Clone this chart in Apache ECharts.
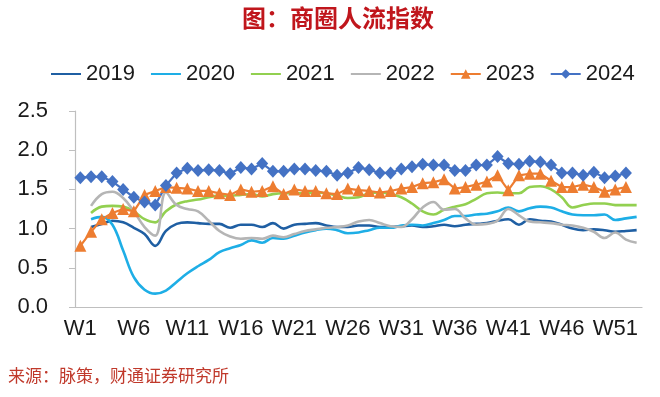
<!DOCTYPE html>
<html>
<head>
<meta charset="utf-8">
<script src="https://cdn.jsdelivr.net/npm/echarts@6/dist/echarts.min.js"></script>
<style>
  html, body { margin: 0; padding: 0; background: #fff; }
  #chart { width: 660px; height: 397px; }
</style>
</head>
<body>
<div id="chart"></div>
<script>
  var weeks = ['W1', 'W2', 'W3', 'W4', 'W5', 'W6', 'W7', 'W8', 'W9', 'W10',
    'W11', 'W12', 'W13', 'W14', 'W15', 'W16', 'W17', 'W18', 'W19', 'W20',
    'W21', 'W22', 'W23', 'W24', 'W25', 'W26', 'W27', 'W28', 'W29', 'W30',
    'W31', 'W32', 'W33', 'W34', 'W35', 'W36', 'W37', 'W38', 'W39', 'W40',
    'W41', 'W42', 'W43', 'W44', 'W45', 'W46', 'W47', 'W48', 'W49', 'W50',
    'W51', 'W52', 'W53']

  var yTicks = [0, 0.5, 1, 1.5, 2, 2.5]

  // 2019-2022 start at W2 and run to W53
  var y2019 = [null, 1.02, 1.06, 1.10, 1.08, 1.01, 0.93, 0.78, 0.97, 1.06,
    1.08, 1.07, 1.06, 1.06, 1.01, 1.05, 1.05, 1.02, 1.07, 1.00,
    1.05, 1.06, 1.07, 1.04, 1.02, 1.02, 1.04, 1.04, 1.02, 1.02,
    1.03, 1.04, 1.02, 1.03, 1.05, 1.03, 1.05, 1.06, 1.07, 1.10,
    1.12, 1.05, 1.12, 1.10, 1.09, 1.05, 1.00, 0.98, 0.99, 0.98,
    0.96, 0.97, 0.98]
  var y2020 = [null, 1.12, 1.15, 1.05, 0.72, 0.38, 0.22, 0.17, 0.21, 0.32,
    0.43, 0.52, 0.60, 0.70, 0.75, 0.79, 0.85, 0.82, 0.88, 0.87,
    0.91, 0.95, 0.98, 1.00, 0.98, 0.94, 0.95, 0.98, 1.01, 1.01,
    1.04, 1.05, 1.04, 1.07, 1.11, 1.16, 1.16, 1.18, 1.19, 1.22,
    1.27, 1.22, 1.26, 1.28, 1.27, 1.22, 1.18, 1.17, 1.17, 1.18,
    1.11, 1.13, 1.15]
  var y2021 = [null, 1.20, 1.28, 1.29, 1.28, 1.22, 1.12, 1.08, 1.22, 1.31,
    1.35, 1.37, 1.40, 1.42, 1.42, 1.43, 1.44, 1.41, 1.44, 1.45,
    1.45, 1.45, 1.46, 1.45, 1.42, 1.39, 1.40, 1.45, 1.46, 1.44,
    1.40, 1.32, 1.22, 1.18, 1.24, 1.28, 1.31, 1.38, 1.45, 1.46,
    1.45, 1.45, 1.53, 1.54, 1.50, 1.40, 1.27, 1.30, 1.32, 1.32,
    1.30, 1.30, 1.30]
  var y2022 = [null, 1.29, 1.44, 1.47, 1.39, 1.22, 1.02, 0.91, 1.46, 1.30,
    1.25, 1.22, 1.10, 0.97, 0.90, 0.87, 0.88, 0.87, 0.91, 0.89,
    0.93, 0.97, 0.99, 1.01, 1.02, 1.04, 1.09, 1.11, 1.07, 1.03,
    1.02, 1.12, 1.27, 1.34, 1.24, 1.25, 1.13, 1.05, 1.06, 1.10,
    1.25, 1.17, 1.09, 1.08, 1.07, 1.05, 1.04, 1.01, 0.96, 0.88,
    0.95, 0.86, 0.82]
  // 2023-2024 run W1 to W52
  var y2023 = [0.78, 0.96, 1.12, 1.20, 1.25, 1.22, 1.43, 1.48, 1.53, 1.52,
    1.51, 1.48, 1.48, 1.45, 1.43, 1.50, 1.47, 1.48, 1.54, 1.44,
    1.50, 1.48, 1.48, 1.45, 1.44, 1.51, 1.49, 1.48, 1.46, 1.48,
    1.51, 1.53, 1.58, 1.59, 1.63, 1.51, 1.53, 1.56, 1.60, 1.68,
    1.49, 1.68, 1.70, 1.70, 1.61, 1.53, 1.53, 1.56, 1.53, 1.47,
    1.50, 1.53, null]
  var y2024 = [1.65, 1.66, 1.66, 1.60, 1.50, 1.40, 1.34, 1.30, 1.55, 1.71,
    1.77, 1.74, 1.75, 1.74, 1.70, 1.78, 1.76, 1.83, 1.73, 1.73,
    1.76, 1.76, 1.74, 1.73, 1.68, 1.71, 1.78, 1.75, 1.71, 1.71,
    1.76, 1.79, 1.82, 1.81, 1.81, 1.74, 1.74, 1.81, 1.81, 1.92,
    1.83, 1.82, 1.86, 1.85, 1.81, 1.71, 1.71, 1.68, 1.72, 1.65,
    1.67, 1.71, null]

  var font = 'Liberation Sans, Arial, sans-serif'
  var cjk = 'Noto Sans CJK SC, sans-serif'

  function smoothLine (name, data, color) {
    return {
      name: name,
      type: 'line',
      data: data,
      smooth: 0.4,
      symbol: 'none',
      lineStyle: { color: color, width: 2.6 },
      itemStyle: { color: color }
    }
  }

  function markLine (name, data, color, symbol) {
    return {
      name: name,
      type: 'line',
      data: data,
      symbol: symbol,
      symbolSize: symbol === 'diamond' ? [12, 13] : 12,
      showAllSymbol: true,
      lineStyle: { color: color, width: 2.2 },
      itemStyle: { color: color }
    }
  }

  // legend entries: plain line for smooth series, line + marker for the others
  var legendData = [
    { name: '2019', itemStyle: { opacity: 0 } },
    { name: '2020', itemStyle: { opacity: 0 } },
    { name: '2021', itemStyle: { opacity: 0 } },
    { name: '2022', itemStyle: { opacity: 0 } },
    { name: '2023' },
    { name: '2024' }
  ]

  var chart = echarts.init(document.getElementById('chart'), null, { renderer: 'canvas' })
  chart.setOption({
    animation: false,
    title: {
      text: '图：商圈人流指数',
      left: 237,
      top: 1,
      textStyle: {
        fontFamily: cjk,
        fontSize: 24,
        fontWeight: 'bold',
        color: '#c0161c'
      }
    },
    legend: {
      left: 45,
      top: 58,
      itemWidth: 30,
      itemHeight: 12,
      itemGap: 15,
      textStyle: { fontFamily: font, fontSize: 22, color: '#1a1a1a' },
      data: legendData
    },
    grid: {
      left: 75,
      right: 18,
      top: 111,
      bottom: 90,
      containLabel: false
    },
    xAxis: {
      type: 'category',
      data: weeks,
      boundaryGap: true,
      axisLine: { lineStyle: { color: '#bfbfbf', width: 1.2 } },
      axisTick: { interval: 0, length: 5, lineStyle: { color: '#bfbfbf' } },
      axisLabel: {
        interval: 4,
        margin: 11,
        fontFamily: font,
        fontSize: 22,
        color: '#1a1a1a'
      }
    },
    yAxis: {
      type: 'value',
      min: yTicks[0],
      max: yTicks[yTicks.length - 1],
      interval: 0.5,
      axisLine: { show: true, lineStyle: { color: '#bfbfbf', width: 1.2 } },
      axisTick: { show: true, length: 6, lineStyle: { color: '#bfbfbf' } },
      splitLine: { show: false },
      axisLabel: {
        margin: 27,
        fontFamily: font,
        fontSize: 22,
        color: '#1a1a1a',
        formatter: function (v) { return v.toFixed(1) }
      }
    },
    graphic: [
      {
        type: 'text',
        left: 8,
        top: 367,
        style: {
          text: '来源：脉策，财通证券研究所',
          font: '17px ' + cjk,
          fill: '#c0392b'
        }
      }
    ],
    series: [
      smoothLine('2019', y2019, '#1f5fa3'),
      smoothLine('2020', y2020, '#1eaee6'),
      smoothLine('2021', y2021, '#92d050'),
      smoothLine('2022', y2022, '#b5b5b5'),
      markLine('2023', y2023, '#ed7d31', 'triangle'),
      markLine('2024', y2024, '#4472c4', 'diamond')
    ]
  })
</script>
</body>
</html>
